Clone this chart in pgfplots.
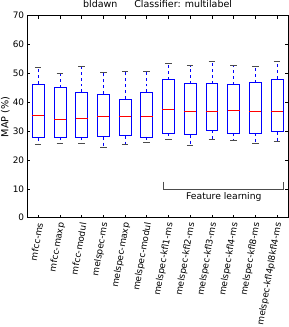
\documentclass[border=0pt]{standalone}
\usepackage{pgfplots}
\pgfplotsset{compat=1.18}
\usepgfplotslibrary{statistics}
\usepackage{fontspec}
\setmainfont{DejaVu Sans}
\begin{document}
\fontsize{9}{10}\selectfont
\begin{tikzpicture}
\begin{axis}[
  scale only axis, width=263pt, height=204pt,
  xmin=0.5, xmax=12.5, ymin=0, ymax=70,
  ytick={0,10,...,70},
  xtick={1,...,12},
  xticklabels={mfcc-ms,mfcc-maxp,mfcc-modul,melspec-ms,melspec-maxp,melspec-modul,melspec-kfl1-ms,melspec-kfl2-ms,melspec-kfl3-ms,melspec-kfl4-ms,melspec-kfl8-ms,melspec-kfl4pl8kfl4-ms},
  xticklabel style={xshift=2pt, yshift=-4pt, rotate=80, anchor=east, inner sep=1pt, font=\fontsize{9}{10}\selectfont},
  yticklabel style={font=\fontsize{9}{10}\selectfont},
  /pgf/number format/assume math mode=true,
  title={bldawn\hspace{17pt}Classifier: multilabel},
  title style={at={(0.5,1)}, anchor=base, yshift=2pt, inner sep=0.5pt, font=\fontsize{9.6}{11}\selectfont},
  ylabel={MAP (\%)},
  ylabel style={font=\fontsize{9.8}{11}\selectfont, yshift=-1pt, inner sep=1pt},
  axis line style={black, line width=0.6pt},
  major tick length=3pt,
  tick style={black, line width=0.5pt},
  boxplot/draw direction=y,
  boxplot/box extend=0.55,
  boxplot/whisker extend=0.3,
  boxplot/draw/lower whisker/.code={%
    \draw[blue, dashed, line width=0.7pt] (boxplot cs:\pgfplotsboxplotvalue{lower quartile}) -- (boxplot cs:\pgfplotsboxplotvalue{lower whisker});
    \draw[black!70, solid, line width=0.7pt] (boxplot whisker cs:\pgfplotsboxplotvalue{lower whisker},0) -- (boxplot whisker cs:\pgfplotsboxplotvalue{lower whisker},1);
  },
  boxplot/draw/upper whisker/.code={%
    \draw[blue, dashed, line width=0.7pt] (boxplot cs:\pgfplotsboxplotvalue{upper quartile}) -- (boxplot cs:\pgfplotsboxplotvalue{upper whisker});
    \draw[black!70, solid, line width=0.7pt] (boxplot whisker cs:\pgfplotsboxplotvalue{upper whisker},0) -- (boxplot whisker cs:\pgfplotsboxplotvalue{upper whisker},1);
  },
  boxplot/every median/.style={red, line width=0.8pt},
  clip=false,
]
\pgfplotsset{bx/.style={blue, line width=0.7pt, solid}}
\addplot[bx, boxplot prepared={draw position=1, lower whisker=25.3, lower quartile=27.7, median=35.5, upper quartile=46.3, upper whisker=52.0}] coordinates {};
\addplot[bx, boxplot prepared={draw position=2, lower whisker=25.6, lower quartile=28.0, median=34.2, upper quartile=45.0, upper whisker=50.1}] coordinates {};
\addplot[bx, boxplot prepared={draw position=3, lower whisker=25.6, lower quartile=28.0, median=34.4, upper quartile=43.4, upper whisker=52.4}] coordinates {};
\addplot[bx, boxplot prepared={draw position=4, lower whisker=24.4, lower quartile=28.1, median=35.1, upper quartile=42.8, upper whisker=50.3}] coordinates {};
\addplot[bx, boxplot prepared={draw position=5, lower whisker=25.5, lower quartile=28.4, median=35.1, upper quartile=41.1, upper whisker=50.8}] coordinates {};
\addplot[bx, boxplot prepared={draw position=6, lower whisker=26.2, lower quartile=28.0, median=35.1, upper quartile=43.4, upper whisker=50.8}] coordinates {};
\addplot[bx, boxplot prepared={draw position=7, lower whisker=27.2, lower quartile=29.3, median=37.5, upper quartile=47.8, upper whisker=53.4}] coordinates {};
\addplot[bx, boxplot prepared={draw position=8, lower whisker=25.1, lower quartile=28.8, median=37.0, upper quartile=46.4, upper whisker=52.7}] coordinates {};
\addplot[bx, boxplot prepared={draw position=9, lower whisker=27.2, lower quartile=30.3, median=37.0, upper quartile=46.4, upper whisker=54.1}] coordinates {};
\addplot[bx, boxplot prepared={draw position=10, lower whisker=26.7, lower quartile=29.3, median=37.3, upper quartile=46.1, upper whisker=52.7}] coordinates {};
\addplot[bx, boxplot prepared={draw position=11, lower whisker=25.8, lower quartile=29.3, median=37.0, upper quartile=46.8, upper whisker=52.3}] coordinates {};
\addplot[bx, boxplot prepared={draw position=12, lower whisker=26.4, lower quartile=29.8, median=37.0, upper quartile=48.1, upper whisker=54.2}] coordinates {};
\draw[black!70, line width=0.7pt] (axis cs:6.76,12.5) -- (axis cs:6.76,9.8) -- (axis cs:12.27,9.8) -- (axis cs:12.27,12.5);
\node[font=\fontsize{9.3}{10}\selectfont] at (axis cs:9.55,7.2) {Feature learning};
\end{axis}
\end{tikzpicture}
\end{document}
